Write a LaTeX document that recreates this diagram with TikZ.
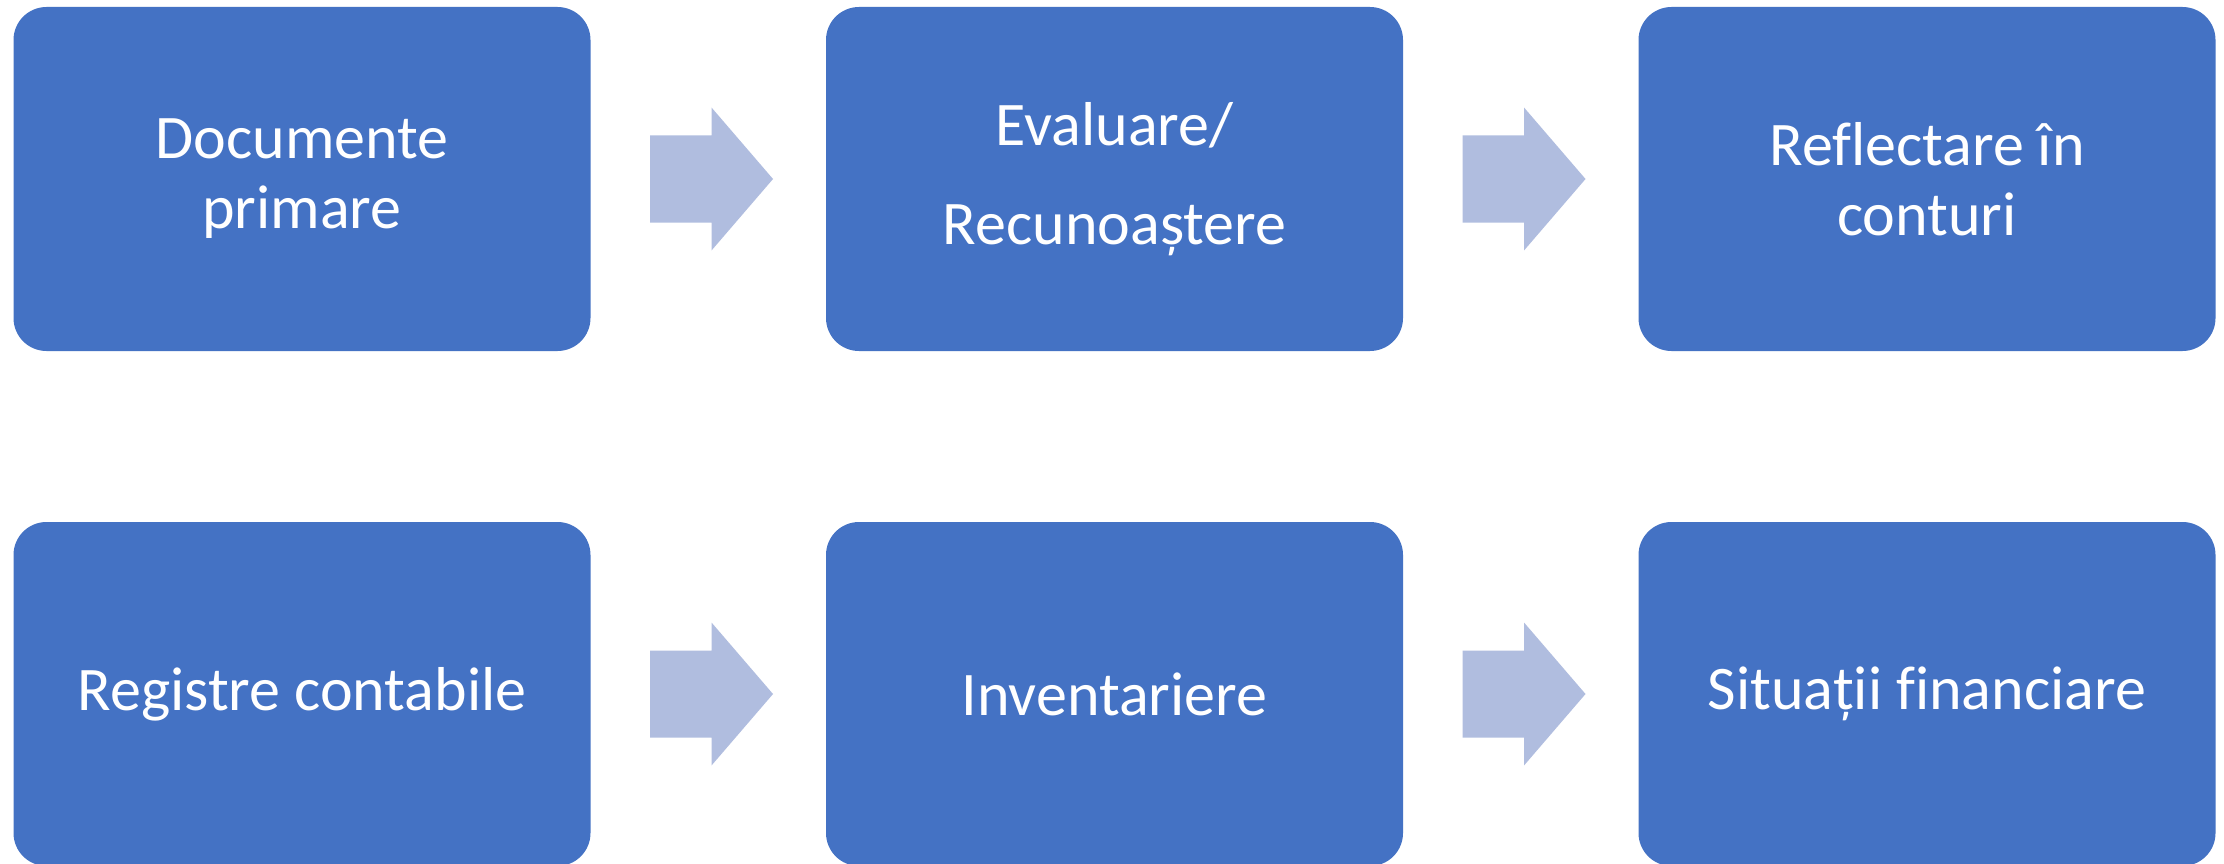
\documentclass[tikz,border=0pt]{standalone}
\usepackage{fontspec}
\setmainfont{Carlito}[Ligatures={NoCommon}]
\definecolor{boxblue}{HTML}{4472C4}
\definecolor{arrowblue}{HTML}{B0BDDF}
\tikzset{
  stepbox/.style={fill=boxblue, draw=none, rounded corners=33pt,
    minimum width=577pt, minimum height=344pt, inner sep=0pt,
    text=white, align=center, font=\fontsize{62}{70}\selectfont},
  procarrow/.pic={
    \fill[arrowblue] (-61.5,-43.5) -- (0,-43.5) -- (0,-71.5) -- (61.5,0)
      -- (0,71.5) -- (0,43.5) -- (-61.5,43.5) -- cycle;
  }
}
\begin{document}
\begin{tikzpicture}[x=1pt,y=-1pt]
\useasboundingbox (0,0) rectangle (2224,864);
\fill[white] (0,0) rectangle (2224,864);
\node[stepbox] (b1) at (302,179) {Documente\\primare};
\node[stepbox] (b2) at (1114.5,179) {Evaluare/\\[29pt]Recunoaștere};
\node[stepbox] (b3) at (1927,179) {Reflectare în\\conturi};
\node[stepbox] (b4) at (302,694) {Registre contabile};
\node[stepbox] (b5) at (1114.5,694) {Inventariere};
\node[stepbox] (b6) at (1927,694) {Situații financiare};
\pic at (711.5,179) {procarrow};
\pic at (1524,179) {procarrow};
\pic at (711.5,694) {procarrow};
\pic at (1524,694) {procarrow};
\end{tikzpicture}
\end{document}
